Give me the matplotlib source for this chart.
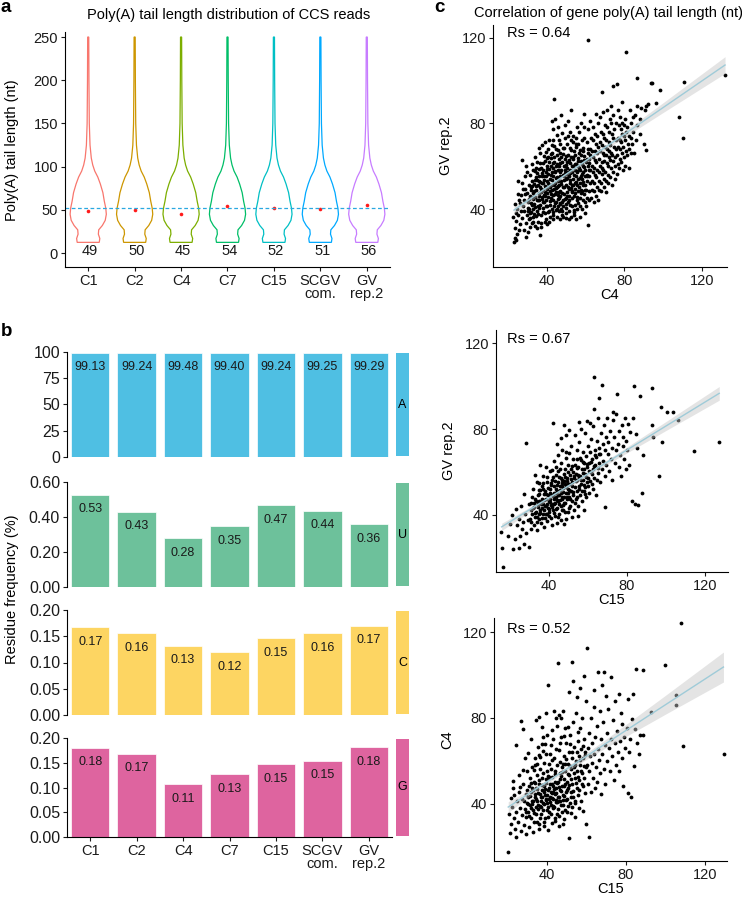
import numpy as np
import matplotlib.pyplot as plt

plt.rcParams['font.family'] = ['Liberation Sans', 'DejaVu Sans']
plt.rcParams['axes.linewidth'] = 0.8

W, H = 742, 897

# ---- panel a: poly(A) tail length violins ----
samples = ['C1', 'C2', 'C4', 'C7', 'C15', 'SCGV\ncom.', 'GV\nrep.2']
violin_colors = ['#F8766D', '#CD9600', '#7CAE00', '#00BE67', '#00BFC4', '#00A9FF', '#C77CFF']
tail_means = [49, 50, 45, 54, 52, 51, 56]
overall_mean = 52
# violin outline: tail length (nt) and relative half width
violin_len = [12.5, 17, 22, 27, 32, 38, 45, 52, 60, 70, 80, 88, 95, 102, 110, 125, 150, 200, 250]
violin_width = [0.61, 0.64, 0.56, 0.58, 0.78, 0.94, 1.0, 0.97, 0.89, 0.81, 0.67, 0.53,
                0.36, 0.25, 0.17, 0.10, 0.06, 0.04, 0.03]

# ---- panel b: residue frequency (%) ----
res_A = [99.13, 99.24, 99.48, 99.40, 99.24, 99.25, 99.29]
res_U = [0.527, 0.43, 0.28, 0.348, 0.466, 0.436, 0.36]
res_C = [0.167, 0.156, 0.132, 0.12, 0.146, 0.156, 0.17]
res_G = [0.18, 0.168, 0.107, 0.127, 0.147, 0.154, 0.181]
res_colors = {'A': '#4FBFE3', 'U': '#6DC19B', 'C': '#FDD562', 'G': '#DE649F'}

# ---- panel c: gene tail length scatter (x, y) ----
c4_vs_gv = [
    (23.2,24.7),(23.6,26.3),(24.3,25.4),(24.9,28.1),(23.9,31.2),(25.6,30.4),(24.3,34.2),(26.1,33.1),(25.2,37.3),(27.2,35.8),(24.6,40.2),(26.6,39.1),
    (23.7,42.4),(25.9,44.1),(27.6,41.3),(25.0,47.2),(26.9,46.4),(28.3,44.2),(27.1,52.3),(29.1,49.2),(25.5,53.1),(28.7,55.4),(29.9,57.2),(27.4,63.1),
    (29.6,60.3),(28.1,30.2),(29.5,33.4),(30.4,29.4),(29.9,37.1),(28.5,39.3),(22.8,36.5),(24.0,38.1),(26.3,42.8),(28.9,46.9),(27.8,49.5),(29.2,27.1),
    (30.8,35.2),(31.1,40.1),(30.3,43.2),(31.6,46.3),(32.1,38.4),(31.9,50.2),(32.6,53.1),(30.7,51.3),(32.4,33.3),(33.1,36.2),(31.4,31.4),(33.5,42.3),
    (34.1,45.4),(33.7,48.2),(34.3,55.1),(33.1,58.3),(35.1,62.2),(33.9,64.1),(35.3,34.1),(34.9,39.2),(35.6,41.4),(35.9,47.3),(34.6,50.6),(35.2,53.4),
    (35.0,56.6),(32.8,44.9),(31.2,55.8),(30.1,47.6),(33.2,39.8),(34.4,36.8),(35.7,44.2),(32.7,61.0),(31.8,42.6),(34.7,59.4),(33.4,51.9),(30.6,38.9),
    (35.8,68.3),(34.2,32.2),(32.9,47.4),(31.5,35.9),
    (36.7,27.9),(36.2,44.3),(36.5,50.1),(36.3,53.2),(37.1,59.2),(36.6,66.4),(37.6,70.1),(37.3,37.2),(38.1,40.3),(37.9,43.2),(38.5,46.4),(38.2,49.1),
    (37.7,52.3),(38.7,55.2),(38.3,58.1),(39.1,62.3),(38.9,71.2),(39.6,35.3),(39.3,38.2),(40.1,41.3),(39.9,44.2),(40.4,47.3),(39.7,50.4),(40.2,53.1),
    (40.7,56.2),(40.0,60.3),(40.9,64.2),(40.5,68.1),(41.1,72.3),(40.3,33.2),(41.6,36.4),(41.3,39.3),(41.9,42.1),(42.0,45.2),(41.5,48.4),(42.3,51.2),
    (41.8,54.1),(42.6,57.3),(42.1,60.2),(36.9,47.8),(37.4,55.6),(38.6,64.9),(39.4,57.5),(36.1,40.6),(37.0,33.5),(39.0,48.0),(41.0,51.0),(38.0,52.0),
    (36.8,61.7),(39.8,66.6),(41.4,58.6),(37.8,45.5),(40.6,38.6),(42.4,63.8),
    (42.8,66.3),(42.5,70.1),(43.6,91.3),(43.2,77.2),(42.9,81.1),(43.1,35.2),(43.4,38.4),(43.9,41.2),(43.3,44.3),(44.1,47.2),(43.7,49.3),(44.4,52.1),
    (43.5,55.2),(44.2,57.3),(44.6,60.2),(43.8,64.4),(44.7,68.2),(44.3,82.3),(45.1,36.3),(45.4,40.2),(44.9,43.1),(45.6,46.4),(45.2,50.3),(45.8,53.2),
    (45.3,55.1),(46.0,58.3),(45.5,61.2),(46.2,63.3),(45.7,67.4),(46.4,72.1),(45.9,78.2),(46.6,35.1),(46.1,39.3),(46.8,42.2),(46.3,45.1),(47.0,48.3),
    (46.5,51.2),(47.2,53.1),(46.7,55.4),(47.4,58.2),(46.9,61.3),(47.6,64.2),(47.1,70.4),(47.8,75.3),(47.3,84.1),(47.9,37.2),(47.5,40.1),(47.7,43.4),
    (43.0,59.0),(44.0,62.0),(45.0,48.0),(46.0,53.8),(47.0,46.0),(44.8,39.6),(42.7,48.7),(43.4,72.4),(45.4,74.6),(46.7,66.2),
    (48.2,36.1),(48.6,41.2),(48.3,44.3),(48.9,47.1),(48.4,50.2),(49.1,53.4),(48.7,55.2),(49.3,58.3),(48.8,60.1),(49.5,63.2),(49.0,68.3),(49.6,73.2),
    (49.2,79.1),(49.8,38.3),(50.1,42.2),(49.7,45.3),(50.3,48.1),(50.0,51.2),(50.5,54.4),(50.2,56.3),(50.7,59.1),(50.4,62.2),(50.9,65.3),(50.6,70.2),
    (51.1,74.1),(50.8,81.3),(51.3,35.2),(51.5,39.1),(51.2,43.3),(51.7,46.2),(51.4,49.4),(51.9,52.1),(51.6,55.2),(52.1,58.4),(51.8,61.3),(52.3,64.2),
    (52.0,68.3),(52.5,72.2),(52.2,76.1),(52.4,86.3),(52.7,36.2),(53.0,41.3),(52.8,45.2),(53.2,48.1),(52.9,51.3),(53.4,54.2),(53.1,57.1),(53.6,60.3),
    (53.3,63.2),(53.8,67.1),(53.5,71.3),(53.7,74.2),(48.5,65.6),(49.4,56.8),(50.0,60.5),(52.6,50.0),(51.0,57.3),(49.9,35.8),(53.9,38.7),
    (54.1,37.3),(54.4,42.1),(54.2,46.3),(54.7,49.2),(54.4,52.1),(54.9,55.3),(54.6,58.2),(55.1,61.1),(54.8,65.3),(55.3,69.2),(55.0,73.1),(55.5,78.2),
    (55.2,35.1),(55.7,40.2),(55.4,44.1),(55.9,48.3),(55.6,51.2),(56.1,54.1),(55.8,57.4),(56.3,60.2),(56.0,62.3),(56.5,66.1),(56.2,70.3),(56.7,76.2),
    (57.0,36.2),(57.2,41.3),(56.9,45.2),(57.4,49.1),(57.1,52.2),(57.6,55.3),(57.3,58.1),(57.8,62.4),(57.5,65.2),(58.0,72.1),(57.7,80.3),(58.3,40.2),
    (58.5,44.1),(58.2,48.3),(58.7,51.2),(58.4,54.1),(58.9,57.2),(58.6,60.3),(59.1,63.1),(58.8,67.2),(59.3,73.3),(59.0,78.1),(59.5,38.2),(59.7,43.1),
    (59.4,47.2),(59.9,51.3),(59.6,55.2),(59.8,58.1),(59.2,84.2),
    (60.3,41.2),(60.6,45.3),(60.2,49.1),(60.8,53.2),(60.5,56.1),(61.0,60.3),(60.7,63.2),(61.2,66.1),(60.9,71.3),(61.4,77.2),(61.1,32.3),(61.3,119.2),
    (61.6,44.2),(61.8,48.3),(62.1,52.1),(61.9,55.2),(62.3,58.4),(62.0,61.3),(62.5,65.2),(62.2,68.1),(62.7,73.2),(62.4,81.3),(63.0,45.2),(63.3,49.1),
    (63.1,53.3),(63.6,57.1),(63.4,60.2),(63.8,64.3),(63.5,67.2),(64.0,72.1),(63.7,78.3),(64.3,43.1),(64.5,48.2),(64.2,52.3),(64.7,56.1),(64.4,59.2),
    (64.9,63.1),(64.6,67.3),(65.1,70.2),(64.8,75.1),(65.3,84.3),(65.5,46.2),(65.7,50.3),(65.4,55.1),(65.9,58.2),(65.6,62.1),(66.1,66.3),
    (66.3,69.2),(66.0,74.1),(66.5,80.2),(66.2,44.3),(66.7,49.1),(66.9,53.2),(67.1,57.1),(67.3,60.3),(67.0,63.2),(67.5,67.1),(67.2,71.3),(67.7,76.2),
    (67.4,83.1),(68.4,94.8),(67.9,48.2),(68.1,52.1),(68.3,56.3),(68.6,59.2),(68.2,62.1),(68.8,66.3),(68.5,70.1),(69.0,75.2),(68.7,85.3),(69.3,50.1),
    (69.5,54.2),(69.2,58.1),(69.7,62.3),(69.4,65.2),(69.9,69.1),(69.6,73.3),(70.1,79.2),(70.3,48.1),(70.6,53.2),(70.2,57.1),(70.8,61.3),(70.5,65.2),
    (71.0,68.1),(70.7,72.3),(71.2,78.1),(70.9,86.2),(71.4,52.3),(71.7,56.1),(71.5,60.2),(72.0,64.1),(71.8,67.3),(72.2,71.2),(71.9,76.1),(72.4,82.3),
    (72.6,55.1),(72.9,59.2),(72.7,63.1),(73.2,66.3),(72.8,70.1),(73.4,75.2),(73.1,80.2),(73.3,88.1),(73.6,51.2),(73.9,57.1),(74.2,62.3),(73.8,65.1),
    (74.4,69.2),(74.1,73.1),(74.6,77.2),(74.3,84.1),(74.2,97.3),(75.0,54.2),(75.3,60.1),(75.1,64.2),(75.6,68.1),(75.4,72.3),(75.8,80.1),(76.2,56.3),
    (76.5,61.2),(76.3,65.1),(76.8,69.2),(76.6,73.1),(77.0,79.2),(76.9,86.1),(76.4,98.2),(77.3,59.1),(77.6,63.2),(77.9,68.1),(77.5,72.3),(78.1,77.2),
    (77.8,83.1),(78.4,62.1),(78.7,66.3),(78.3,71.2),(78.9,75.1),(78.6,80.3),(78.5,90.2),(79.2,58.1),(79.5,64.2),(79.3,69.1),(79.8,74.3),(79.6,79.2),
    (80.3,60.2),(80.6,67.1),(80.2,72.3),(80.8,76.1),(80.5,82.2),(80.8,113.4),(81.3,65.1),(81.6,70.2),(81.2,78.1),(82.1,59.3),(82.4,68.2),(82.2,74.1),
    (82.7,86.3),(83.2,66.1),(83.5,73.2),(83.3,80.1),(84.1,70.2),(84.4,76.1),(84.2,83.2),(85.1,66.3),(85.4,84.1),(86.1,72.2),(86.4,79.1),(86.2,88.3),
    (86.5,101.2),(87.9,75.1),(88.2,82.3),(89.8,70.2),(90.3,86.1),(91.2,67.4),(91.0,88.2),(93.6,99.1),(94.3,99.1),(96.2,89.6),(98.1,95.5),(108.2,83.1),
    (110.0,73.3),(110.7,99.2),(131.7,102.6),(88.6,87.2),(92.0,89.1),
]
c4_vs_gv_core = [
    (30.3,40.7),(30.9,44.6),(31.5,38.1),(31.7,48.9),(32.3,41.8),(32.6,50.7),(33.0,45.6),(33.3,37.5),(33.8,53.6),(34.2,41.1),(34.5,48.7),(34.9,44.0),
    (35.3,51.1),(35.5,37.9),(35.8,55.2),(36.2,46.2),(36.4,41.9),(36.8,52.5),(37.2,49.2),(37.5,44.6),(37.8,57.0),(38.1,38.4),(38.4,53.7),(38.6,43.5),
    (38.9,50.6),(39.2,46.1),(39.5,55.6),(39.8,41.6),(40.1,49.5),(40.3,58.5),(40.6,45.4),(40.9,52.2),(41.2,62.1),(41.5,43.9),(41.8,50.3),(42.0,55.9),
    (42.3,47.0),(42.6,40.1),(42.9,53.5),(43.2,61.5),(43.5,46.4),(43.8,51.2),(44.1,57.8),(44.4,42.6),(44.7,49.9),(45.0,54.3),(45.3,65.2),(45.6,44.9),
    (45.9,50.6),(46.2,60.3),(46.5,47.8),(46.8,57.2),(47.1,42.9),(47.4,51.5),(47.7,62.2),(48.0,47.3),(48.3,55.7),(48.6,68.7),(48.9,50.2),(49.2,44.6),
    (49.5,59.9),(49.8,54.0),(50.1,65.0),(50.4,46.2),(50.7,57.0),(51.0,50.4),(51.3,62.7),(51.6,44.4),(51.9,56.6),(52.2,53.5),(52.5,67.6),(52.8,48.2),
    (53.1,59.9),(53.4,51.2),(53.7,64.4),(54.0,55.7),(54.3,47.5),(54.6,61.2),(54.9,52.6),(55.2,70.5),(55.5,57.8),(55.8,45.7),(56.1,63.9),(56.4,50.5),
    (56.7,59.2),(57.0,67.8),(57.3,54.6),(57.6,47.4),(57.9,61.0),(58.2,56.5),(58.5,68.6),(58.8,52.4),(59.1,59.7),(59.4,64.8),(59.7,49.0),(60.0,61.8),
    (60.5,55.2),(61.0,67.9),(61.5,58.3),(62.0,63.5),(36.0,58.9),(38.0,61.5),(40.0,63.9),(42.0,65.7),(44.0,69.4),(34.0,57.8),(46.0,41.2),(48.0,38.9),
    (50.0,40.3),(52.0,41.8),(54.0,39.6),(56.0,42.7),(33.0,33.9),(35.0,31.0),(37.0,31.8),(39.0,34.1),(41.0,33.7),(43.0,37.4),
]
c15_vs_gv = [
    (16.3,15.4),(16.0,24.5),(21.4,23.9),(24.6,24.4),(15.5,32.0),(29.6,25.0),(21.2,39.8),(18.9,30.1),(22.8,28.6),(25.3,29.8),(27.1,26.4),(23.6,35.2),
    (26.3,33.4),(20.2,35.6),(24.8,38.1),(28.4,31.2),(26.9,36.8),(28.2,73.3),(22.9,42.6),(25.7,44.2),(27.6,40.5),(29.1,37.3),(29.8,44.8),(27.3,49.6),
    (30.2,38.2),(30.5,42.1),(30.8,45.3),(31.0,36.4),(31.3,48.2),(31.5,40.3),(31.8,43.2),(32.0,52.1),(32.2,35.2),(32.5,45.4),(32.8,39.1),(33.0,47.2),
    (33.3,41.3),(33.6,55.1),(33.8,36.8),(34.1,43.6),(34.3,49.2),(34.6,40.1),(34.9,46.3),(35.1,38.2),(35.4,51.4),(35.6,42.2),(35.9,44.8),(36.1,36.1),
    (36.3,47.3),(36.6,53.2),(36.8,40.3),(37.1,45.1),(37.3,49.6),(37.6,42.4),(37.8,38.3),(38.1,51.2),(38.3,44.1),(38.6,47.2),(38.8,40.1),(39.1,55.3),
    (39.3,43.2),(39.6,49.1),(39.8,46.2),(30.9,33.1),(33.9,32.6),(36.7,58.2),(35.2,63.1),(37.5,34.2),(39.2,36.9),(38.4,62.4),(32.7,58.7),(34.8,54.6),
    (40.1,41.3),(40.3,47.4),(40.6,52.2),(40.8,44.3),(41.1,38.6),(41.3,49.2),(41.5,56.1),(41.8,45.2),(42.0,42.1),(42.3,50.3),(42.5,47.1),(42.8,53.4),
    (43.0,39.2),(43.2,45.6),(43.5,58.3),(43.7,48.2),(44.0,43.1),(44.2,51.2),(44.5,55.2),(44.7,46.3),(45.0,40.4),(45.2,49.1),(45.5,53.3),(45.7,61.2),
    (46.0,44.2),(46.2,50.1),(46.5,47.3),(46.7,56.2),(47.0,42.1),(47.2,52.4),(47.5,48.2),(47.7,59.1),(48.0,45.3),(48.2,54.1),(48.5,50.2),(48.7,38.1),
    (49.0,57.3),(49.2,47.2),(49.5,52.1),(49.7,63.2),(40.4,60.2),(41.6,35.1),(42.7,65.3),(43.9,36.2),(44.8,68.1),(45.9,37.3),(46.8,70.2),(47.9,35.4),
    (48.8,66.3),(49.9,41.2),(40.9,54.7),(42.2,57.6),(43.4,52.0),(44.4,60.4),(45.3,57.8),(46.4,53.6),(47.3,44.7),(48.4,61.5),(49.3,55.6),(41.9,48.5),
    (43.6,42.7),(45.8,46.9),(47.6,55.8),(49.6,49.9),(44.1,72.8),(46.1,75.6),(48.6,77.1),(42.2,83.0),(47.7,81.9),(50.1,79.5),(55.5,83.4),
    (50.1,48.3),(50.3,54.2),(50.6,44.1),(50.8,58.3),(51.1,51.2),(51.3,61.4),(51.6,46.2),(51.8,55.3),(52.1,66.2),(52.3,49.1),(52.6,57.2),(52.8,42.3),
    (53.1,53.1),(53.3,63.2),(53.6,47.4),(53.8,59.1),(54.1,70.3),(54.3,51.2),(54.6,56.3),(54.8,44.2),(55.1,62.1),(55.3,53.2),(55.6,74.1),(55.8,49.3),
    (56.1,58.2),(56.3,65.4),(56.6,54.1),(56.8,46.2),(57.1,61.3),(57.3,69.2),(57.6,56.1),(57.8,51.2),(58.1,64.3),(58.3,78.1),(58.6,59.2),(58.8,48.1),
    (59.1,67.2),(59.3,55.1),(59.6,62.3),(59.8,72.1),(50.5,68.9),(51.9,38.8),(53.5,77.4),(54.9,39.6),(56.4,80.2),(57.9,42.3),(59.4,83.6),(52.4,59.8),
    (55.2,57.4),(57.4,64.6),(58.7,52.8),
    (60.1,57.2),(60.4,64.1),(60.7,50.2),(61.0,69.3),(61.3,60.1),(61.6,75.2),(61.9,54.3),(62.2,66.1),(62.5,61.2),(62.8,81.3),(63.1,57.2),(63.4,70.1),
    (63.7,63.3),(64.0,49.2),(64.3,67.1),(64.6,74.2),(64.9,59.3),(65.2,85.1),(65.5,64.2),(65.8,71.3),(66.1,55.1),(66.4,68.2),(66.7,78.1),(67.0,61.3),
    (67.3,100.6),(67.6,73.2),(67.9,65.1),(68.2,82.1),(68.5,58.2),(68.8,70.3),(68.9,43.7),(69.1,76.1),(69.4,63.2),(69.7,85.0),(63.2,104.2),(62.9,89.3),
    (65.6,94.6),(60.8,82.7),
    (70.1,68.2),(70.5,74.1),(70.9,60.3),(71.3,79.2),(71.7,66.1),(72.1,71.3),(72.5,56.2),(72.9,84.1),(73.3,76.2),(73.7,64.1),(74.1,70.3),(74.5,87.2),
    (74.9,96.4),(75.3,73.1),(75.7,62.2),(76.1,79.3),(76.5,68.1),(76.9,58.2),(77.3,82.1),(77.7,72.3),(78.1,76.1),(78.5,66.2),(78.9,85.1),(79.3,61.2),
    (79.7,74.3),(73.0,87.8),
    (80.2,70.2),(81.5,78.7),(82.6,46.4),(83.2,85.0),(83.6,100.2),(84.0,45.0),(85.0,71.0),(85.6,44.5),(86.8,95.6),(87.5,50.2),(88.4,67.9),(92.7,81.9),
    (92.7,99.0),(93.5,76.4),(96.4,58.2),(97.6,90.3),(98.1,73.8),(100.7,87.8),(103.6,87.8),(106.0,84.2),(114.4,69.9),(127.0,74.1),(81.2,63.2),(80.6,82.4),
    (84.7,77.6),
]
c15_vs_gv_core = [
    (32.2,43.5),(32.9,40.6),(33.5,46.5),(34.0,39.0),(34.4,45.1),(35.0,49.8),(35.5,41.0),(36.0,45.9),(36.5,43.3),(37.0,51.8),(37.4,47.0),(37.9,43.9),
    (38.4,49.6),(38.9,45.1),(39.4,52.5),(39.9,42.7),(40.3,50.0),(40.7,46.1),(41.2,53.9),(41.6,43.8),(42.1,49.1),(42.6,45.2),(43.0,55.7),(43.4,50.1),
    (43.9,46.9),(44.3,53.8),(44.7,49.4),(45.2,44.8),(45.6,51.6),(46.0,57.3),(46.4,48.4),(46.9,54.6),(47.3,50.6),(47.8,45.6),(48.2,57.4),(48.6,52.8),
    (49.0,48.3),(49.5,60.1),(49.9,54.5),(50.3,51.3),(50.7,47.3),(51.2,56.6),(51.6,53.3),(52.0,62.8),(52.5,50.8),(52.9,58.2),(53.3,45.5),(53.8,55.5),
    (54.2,61.7),(54.6,48.1),(55.1,58.5),(55.5,52.2),(55.9,66.7),(56.4,56.1),(56.8,50.9),(57.2,59.4),(57.7,54.0),(58.1,61.3),(58.5,49.5),(59.0,57.5),
    (59.4,63.9),(59.9,53.2),(60.4,60.5),(60.9,55.8),(61.5,64.7),(62.0,59.1),(62.6,52.2),(63.2,62.7),(63.8,67.8),(64.4,56.4),(65.0,61.6),(65.6,68.2),
    (36.2,38.6),(38.2,40.3),(40.2,39.2),(42.4,40.8),(44.6,38.9),(46.6,42.4),(48.4,41.3),(50.2,43.0),(34.6,51.4),(36.9,54.7),(38.8,57.4),(41.4,60.8),
    (43.8,62.5),(46.3,64.3),(48.9,69.1),(51.4,72.3),(54.1,66.0),
]
c15_vs_c4 = [
    (20.4,17.4),(21.3,26.2),(21.9,30.4),(20.8,35.1),(22.4,38.3),(21.6,42.6),(22.9,47.1),(23.3,33.2),(23.8,28.1),(24.5,24.6),(24.1,36.3),(24.9,41.2),
    (25.3,31.3),(25.8,45.2),(26.2,38.1),(26.7,27.4),(26.8,78.6),(27.2,34.6),(27.6,42.3),(28.0,75.0),(28.1,49.2),(28.5,30.2),(28.9,37.6),(29.2,44.4),
    (29.6,25.8),(29.9,40.1),(24.5,67.5),(22.6,50.6),(25.6,53.2),(27.9,55.6),(26.4,47.9),(23.1,44.1),(28.7,61.3),(29.4,33.8),
    (30.2,36.2),(30.4,43.1),(30.7,48.3),(30.9,29.2),(31.2,39.4),(31.4,52.1),(31.7,45.2),(31.9,33.1),(32.2,41.3),(32.4,57.2),(32.7,37.1),(32.9,46.4),
    (33.2,31.2),(33.4,50.3),(33.7,43.1),(33.9,61.2),(34.2,38.3),(34.4,47.1),(34.7,35.2),(34.9,53.3),(35.2,41.2),(35.4,66.3),(35.7,45.1),(35.9,28.3),
    (36.2,49.2),(36.4,39.1),(36.7,56.3),(36.9,43.2),(37.2,35.3),(37.4,52.1),(37.7,46.2),(37.9,71.2),(38.2,40.3),(38.4,59.1),(38.7,48.3),(38.9,33.2),
    (39.2,44.1),(39.4,63.2),(39.7,51.3),(39.9,37.2),(30.5,63.8),(31.8,70.1),(33.1,26.8),(34.5,78.9),(36.0,80.4),(37.3,75.6),(38.6,29.4),(39.6,82.1),
    (30.1,55.4),(32.1,49.6),(33.6,55.9),(35.1,58.7),(36.6,61.9),(37.8,64.8),(39.1,67.7),(34.0,44.7),(35.6,37.6),(37.0,41.4),(38.3,45.3),(39.5,41.6),
    (31.0,34.2),(32.6,40.0),(34.8,31.6),(36.3,33.5),(38.0,36.9),(39.8,55.4),
    (40.1,40.2),(40.3,46.3),(40.3,95.3),(40.6,53.1),(40.8,36.2),(41.1,58.3),(41.3,43.2),(41.6,49.1),(41.8,67.3),(42.1,39.2),(42.3,45.1),(42.6,52.3),
    (42.8,74.2),(43.1,42.1),(43.3,48.2),(43.6,61.3),(43.8,38.3),(44.1,55.2),(44.3,44.3),(44.6,80.1),(44.8,47.2),(45.1,35.3),(45.3,58.1),(45.4,105.8),
    (45.6,43.2),(45.8,50.3),(46.1,65.2),(46.3,41.1),(46.6,54.2),(46.8,46.3),(47.1,71.1),(47.3,39.2),(47.6,57.3),(47.8,48.1),(48.1,83.2),(48.3,44.2),
    (48.6,62.1),(48.8,51.3),(49.1,37.1),(49.3,55.2),(49.6,45.3),(49.8,68.2),(40.5,27.6),(42.4,31.1),(44.2,33.5),(46.2,29.4),(48.4,32.6),(41.4,63.2),
    (43.2,70.3),(45.2,76.4),(47.2,79.8),(49.2,75.1),(40.9,51.8),(42.0,56.4),(43.0,45.6),(44.0,50.3),(45.0,40.7),(46.0,47.6),(47.0,52.9),(48.0,41.7),
    (49.0,49.0),(41.2,42.0),(42.9,38.7),(44.5,41.9),(46.4,59.5),(48.2,58.6),(49.7,60.9),(43.5,83.2),(45.9,81.3),(40.6,33.8),(47.5,36.0),
    (50.1,42.2),(50.3,50.1),(50.6,58.3),(50.8,47.2),(51.1,64.1),(51.3,24.1),(51.4,53.3),(51.6,40.1),(51.9,72.2),(52.1,56.1),(52.4,45.3),(52.7,106.2),
    (52.6,61.2),(52.9,49.1),(53.1,78.3),(53.4,43.2),(53.6,57.1),(53.9,66.3),(54.1,52.2),(54.4,40.3),(54.6,60.1),(54.9,82.2),(55.1,47.1),(55.4,55.3),
    (55.6,69.1),(55.9,44.2),(56.1,62.3),(56.4,51.1),(56.6,75.2),(56.9,58.1),(57.1,41.2),(57.4,65.3),(57.6,54.1),(57.9,80.1),(58.1,48.2),(58.4,61.1),
    (58.6,70.3),(58.9,52.2),(59.1,45.1),(59.4,64.2),(59.6,57.3),(59.9,88.1),(50.9,92.3),(53.0,97.4),(55.0,89.6),(56.8,94.1),(58.8,99.5),(52.2,35.4),
    (54.2,33.6),(56.2,37.8),(58.2,36.4),(60.0,30.4),(51.5,68.0),(55.7,73.5),
    (60.3,112.7),(60.2,58.2),(60.6,66.1),(60.9,49.3),(61.2,73.2),(61.5,24.3),(61.5,55.1),(61.8,62.2),(62.1,45.3),(62.4,80.1),(62.7,59.2),(63.0,68.3),
    (63.3,52.1),(63.6,85.2),(63.9,63.1),(64.2,47.2),(64.5,71.1),(64.8,57.3),(65.1,76.2),(65.4,50.1),(65.7,65.3),(66.0,101.3),(66.3,60.2),(66.6,83.1),
    (66.9,54.1),(67.2,70.2),(67.5,44.3),(67.8,95.4),(68.1,63.2),(68.4,78.1),(68.7,56.2),(69.0,101.7),(69.3,67.3),(69.6,49.1),(69.9,90.2),(64.0,93.1),
    (70.2,73.2),(70.6,60.1),(71.0,84.3),(71.4,66.2),(71.8,55.3),(72.2,99.2),(72.6,70.1),(73.0,62.3),(73.4,79.1),(73.8,51.2),(74.2,68.3),(74.6,88.1),
    (75.0,58.2),(75.4,74.1),(75.8,64.3),(76.2,91.2),(76.6,55.1),(77.0,69.2),(77.4,82.1),(77.8,61.3),(78.2,77.2),(78.6,48.1),(79.0,71.3),(79.4,66.2),
    (80.8,45.0),(82.4,43.1),
    (80.5,75.3),(81.3,64.1),(82.2,70.2),(83.1,79.3),(84.0,57.6),(84.7,75.0),(84.9,102.9),(85.6,68.4),(86.4,63.3),(87.2,72.1),(88.5,72.2),(88.8,102.3),
    (92.5,82.8),(99.9,104.6),(105.3,90.9),(105.3,85.9),(108.0,124.5),(109.0,66.9),(129.8,63.3),(81.0,88.7),(83.7,91.4),
]
c15_vs_c4_core = [
    (28.5,41.2),(29.3,36.2),(30.0,46.5),(30.6,39.8),(31.3,43.5),(31.9,37.9),(32.5,47.2),(33.0,41.0),(33.5,35.7),(34.1,49.6),(34.6,42.3),(35.0,46.7),
    (35.5,39.5),(36.0,51.2),(36.4,44.6),(36.9,38.2),(37.3,48.5),(37.7,42.9),(38.1,54.3),(38.5,39.7),(38.9,46.6),(39.3,42.3),(39.7,49.7),(40.0,44.0),
    (40.4,38.4),(40.8,47.4),(41.2,52.3),(41.6,40.9),(42.0,45.6),(42.4,49.0),(42.8,42.4),(43.2,38.0),(43.6,46.9),(44.0,53.7),(44.4,40.6),(44.8,44.8),
    (45.2,49.4),(45.6,37.7),(46.0,43.3),(46.4,51.4),(46.8,41.0),(47.2,45.9),(47.6,55.0),(48.0,39.5),(48.4,48.0),(48.8,43.4),(49.2,58.3),(49.6,41.6),
    (50.0,46.5),(50.4,53.7),(50.8,39.1),(51.2,48.5),(51.6,57.5),(52.0,43.1),(52.4,51.4),(52.8,63.9),(53.2,46.0),(53.6,54.2),(54.0,41.1),(54.4,58.0),
    (54.8,49.6),(55.2,64.3),(55.6,52.4),(56.0,46.5),(56.5,60.4),(57.0,55.4),(57.5,49.2),(58.0,67.1),(58.5,57.7),(59.0,62.5),(33.8,58.2),(35.8,62.8),
    (37.6,68.0),(40.2,72.0),(42.6,60.3),(44.6,65.4),(46.6,68.3),(48.6,71.6),(50.6,75.8),(41.9,35.2),(43.9,31.9),(45.9,34.0),(47.9,30.6),(38.4,31.6),
    (36.1,30.3),(50.2,36.2),(52.8,38.3),
]

# fitted lines (end points) and confidence band half widths
fit_lines = [([23.2, 131.7], [39.5, 107.3]),
             ([15.7, 127.3], [34.3, 96.7]),
             ([20.4, 129.3], [38.4, 103.8])]
band_x = [[23.2, 40, 55, 75, 100, 131.7],
          [15.7, 35, 50, 75, 100, 127.3],
          [20.4, 35, 45, 70, 100, 129.3]]
band_hw = [[1.6, 0.8, 0.7, 1.2, 2.3, 3.9],
           [1.7, 0.9, 0.7, 1.2, 2.1, 3.2],
           [2.5, 1.2, 0.9, 2.0, 4.4, 7.0]]
rs_values = ['0.64', '0.67', '0.52']

fig = plt.figure(figsize=(W / 100, H / 100), dpi=100)


def box(l, t, r, b):
    return fig.add_axes([l / W, 1 - b / H, (r - l) / W, (b - t) / H])


def ftext(x, y, s, **kw):
    fig.text(x / W, 1 - y / H, s, **kw)


def style(ax, bottom=True, size=10.5):
    ax.spines['top'].set_visible(False)
    ax.spines['right'].set_visible(False)
    ax.spines['bottom'].set_visible(bottom)
    ax.tick_params(length=3, width=0.8, pad=2, labelsize=size, colors='#1a1a1a')
    if not bottom:
        ax.tick_params(axis='x', bottom=False, labelbottom=False)


# ---------------- panel a ----------------
ax = box(65, 32, 390, 267)
vl = np.array(violin_len)
vw = np.array(violin_width) * 0.39
for i, col in enumerate(violin_colors):
    pos = i + 1
    ax.fill(np.concatenate([pos - vw, (pos + vw)[::-1]]), np.concatenate([vl, vl[::-1]]),
            facecolor='none', edgecolor=col, lw=0.9)
    ax.plot(pos, tail_means[i], 'o', ms=2.6, color='#FF1A1A', mew=0)
    ax.text(pos + 0.04, 3, str(tail_means[i]), ha='center', va='center', fontsize=10.5, color='#1a1a1a')
ax.axhline(overall_mean, color='#2AA8E0', lw=0.9, ls=(0, (3, 2)))
ax.set_xlim(0.5, 7.5)
ax.set_ylim(-16, 255.8)
ax.set_yticks(range(0, 251, 50))
ax.set_xticks(range(1, 8))
ax.set_xticklabels(samples, linespacing=0.95)
style(ax)
ftext(12, 150, 'Poly(A) tail length (nt)', rotation=90, ha='center', va='center', fontsize=10.5)
ftext(229, 15, 'Poly(A) tail length distribution of CCS reads', ha='center', va='center', fontsize=10.5)

# ---------------- panel b ----------------
panels_b = [
    ('A', res_A, (67, 352, 392, 457), (0, 100), [0, 25, 50, 75, 100], '{:.0f}'),
    ('U', res_U, (67, 482, 392, 587), (0, 0.6), [0, 0.2, 0.4, 0.6], '{:.2f}'),
    ('C', res_C, (67, 610, 392, 715), (0, 0.2), [0, 0.05, 0.10, 0.15, 0.20], '{:.2f}'),
    ('G', res_G, (67, 738, 392, 837), (0, 0.2), [0, 0.05, 0.10, 0.15, 0.20], '{:.2f}'),
]
xpos = np.arange(1, 8)
for letter, vals, (l, t, r, b), ylim, ticks, fmt in panels_b:
    color = res_colors[letter]
    ax = box(l, t, r, b)
    ax.bar(xpos, vals, width=0.83, color=color, edgecolor='white', linewidth=0.5)
    for xv, v in zip(xpos, vals):
        ax.annotate(f'{v:.2f}', (xv, v), xytext=(0, -10.5), textcoords='offset points',
                    ha='center', va='center', fontsize=9, color='#1a1a1a')
    ax.set_xlim(0.5, 7.5)
    ax.set_ylim(*ylim)
    ax.set_yticks(ticks)
    ax.set_yticklabels([fmt.format(v) for v in ticks])
    is_last = letter == 'G'
    style(ax, bottom=is_last, size=11.5)
    if is_last:
        ax.set_xticks(xpos)
        ax.set_xticklabels(samples, linespacing=0.95)
        ax.tick_params(axis='x', labelsize=10.5)
    sx = box(396, t + 1, 409, b - 1)
    sx.set_facecolor(color)
    sx.set_xticks([])
    sx.set_yticks([])
    for s in sx.spines.values():
        s.set_visible(False)
    sx.text(0.5, 0.5, letter, transform=sx.transAxes, ha='center', va='center', fontsize=9)
ftext(12, 589, 'Residue frequency (%)', rotation=90, ha='center', va='center', fontsize=10.5)

# ---------------- panel c ----------------
panels_c = [
    (c4_vs_gv + c4_vs_gv_core, (493, 25, 727, 267), (12.4, 132.7), (12.9, 126.0), 'C4', 'GV rep.2', (0.06, 0.967)),
    (c15_vs_gv + c15_vs_gv_core, (496, 330, 728, 572), (12.8, 131.8), (13.2, 126.3), 'C15', 'GV rep.2', (0.046, 0.962)),
    (c15_vs_c4 + c15_vs_c4_core, (494, 618, 727, 861), (13.2, 131.1), (13.2, 126.7), 'C15', 'C4', (0.055, 0.953)),
]
for k, (pts, (l, t, r, b), xlim, ylim, xl, yl, rs_pos) in enumerate(panels_c):
    ax = box(l, t, r, b)
    px, py = zip(*pts)
    ax.scatter(px, py, s=7.5, c='black', linewidths=0, zorder=2)
    fx, fy = fit_lines[k]
    bx = np.array(band_x[k])
    by = np.interp(bx, fx, fy)
    hw = np.array(band_hw[k])
    ax.fill_between(bx, by - hw, by + hw, color='#C4C4C4', alpha=0.45, lw=0, zorder=3)
    ax.plot(fx, fy, color='#9FCBD8', lw=1.0, zorder=4)
    ax.set_xlim(*xlim)
    ax.set_ylim(*ylim)
    ax.set_xticks([40, 80, 120])
    ax.set_yticks([40, 80, 120])
    style(ax)
    ax.set_xlabel(xl, fontsize=10.5, labelpad=0)
    ax.set_ylabel(yl, fontsize=10.5, labelpad=6)
    ax.text(rs_pos[0], rs_pos[1], 'Rs = ' + rs_values[k], transform=ax.transAxes,
            ha='left', va='center', fontsize=10.5)
ftext(609, 13, 'Correlation of gene poly(A) tail length (nt)', ha='center', va='center', fontsize=10.5)

# panel letters
ftext(6, 8, 'a', ha='center', va='center', fontsize=13.5, fontweight='bold')
ftext(7, 332, 'b', ha='center', va='center', fontsize=13.5, fontweight='bold')
ftext(439, 8, 'c', ha='center', va='center', fontsize=13.5, fontweight='bold')

fig.savefig('out.png', dpi=100)
